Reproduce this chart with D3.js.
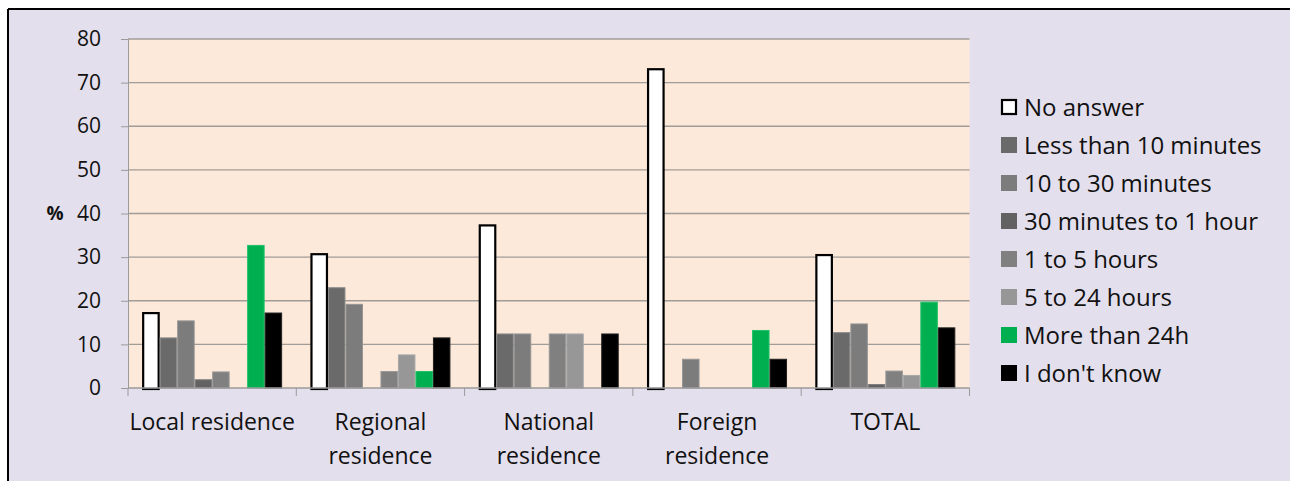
<!DOCTYPE html>
<html>
<head>
<meta charset="utf-8">
<script src="https://cdn.jsdelivr.net/npm/d3@7"></script>
<style>
  html, body { margin: 0; padding: 0; background: #ffffff; }
  svg { display: block; }
  text { font-family: "Open Sans", Lato, sans-serif; fill: #111; }
</style>
</head>
<body>
<svg id="chart" width="1290" height="481"></svg>
<script>
const categories = [["Local residence"], ["Regional", "residence"], ["National", "residence"], ["Foreign", "residence"], ["TOTAL"]];
const seriesNames = ["No answer", "Less than 10 minutes", "10 to 30 minutes", "30 minutes to 1 hour", "1 to 5 hours", "5 to 24 hours", "More than 24h", "I don't know"];
const noAnswer      = [17.4, 30.9, 37.5, 73.3, 30.7];
const lessThan10    = [11.6, 23.1, 12.5, 0, 12.8];
const min10to30     = [15.5, 19.3, 12.5, 6.7, 14.8];
const min30to1h     = [2.0, 0, 0, 0, 0.9];
const h1to5         = [3.8, 3.9, 12.5, 0, 4.0];
const h5to24        = [0, 7.7, 12.5, 0, 3.0];
const moreThan24h   = [32.8, 3.9, 0, 13.3, 19.8];
const dontKnow      = [17.3, 11.6, 12.5, 6.7, 13.9];
const yTicks = [0, 10, 20, 30, 40, 50, 60, 70, 80];

const seriesValues = [noAnswer, lessThan10, min10to30, min30to1h, h1to5, h5to24, moreThan24h, dontKnow];
const fills   = ["#ffffff", "#6a6a6a", "#7c7c7c", "#626262", "#808080", "#979797", "#00b050", "#000000"];
const strokes = ["#000000", "#8a8a8a", "#959595", "#7c7c7c", "#9a9a9a", "#a8a8a8", "#22c26a", "#222222"];

const svg = d3.select("#chart");

// outer background
svg.append("rect").attr("x", 8).attr("y", 9).attr("width", 1290).attr("height", 481).attr("fill", "#e4dfec");
svg.append("line").attr("x1", 8).attr("x2", 1290).attr("y1", 9).attr("y2", 9).attr("stroke", "#000").attr("stroke-width", 2);
svg.append("line").attr("x1", 8).attr("x2", 8).attr("y1", 9).attr("y2", 481).attr("stroke", "#000").attr("stroke-width", 2);

const plotL = 128, plotR = 969.5, plotT = 39, plotB = 388;
const catKeys = categories.map(c => c.join(" "));

const x0 = d3.scaleBand().domain(catKeys).range([plotL, plotR]).padding(0);
const x1 = d3.scaleBand().domain(seriesNames).range([0, x0.bandwidth()]).paddingInner(0).paddingOuter(0.81);
const y = d3.scaleLinear().domain([0, 80]).range([plotB, plotT]);

// plot area
svg.append("rect").attr("x", plotL).attr("y", plotT).attr("width", plotR - plotL).attr("height", plotB - plotT).attr("fill", "#fde9d9");

// gridlines
svg.append("g").selectAll("line").data(yTicks.filter(t => t > 0)).join("line")
  .attr("x1", plotL).attr("x2", plotR)
  .attr("y1", d => y(d)).attr("y2", d => y(d))
  .attr("stroke", "#a09c98").attr("stroke-width", 1.3);

// Y axis
const yAxis = svg.append("g").attr("transform", `translate(${plotL},0)`)
  .call(d3.axisLeft(y).tickValues(yTicks).tickSize(7).tickPadding(20));
yAxis.select(".domain").attr("stroke", "#9a9a9a");
yAxis.selectAll(".tick line").attr("stroke", "#9a9a9a");
yAxis.selectAll(".tick text").attr("font-size", 21).attr("font-family", "'Open Sans', sans-serif").attr("fill", "#111");

svg.append("text").attr("x", 55).attr("y", y(40)).attr("dy", "0.35em").attr("text-anchor", "middle")
  .attr("font-size", 19).attr("font-weight", "bold").text("%");

// bars
const groups = svg.append("g").selectAll("g").data(catKeys).join("g")
  .attr("transform", d => `translate(${x0(d)},0)`);
groups.each(function(cat, ci) {
  const g = d3.select(this);
  seriesNames.forEach((s, si) => {
    const v = seriesValues[si][ci];
    if (v <= 0) return;
    const isWhite = si === 0;
    g.append("rect")
      .attr("x", x1(s) + (isWhite ? 1 : 0.5))
      .attr("y", y(v) + (isWhite ? 1 : 0.5))
      .attr("width", x1.bandwidth() - (isWhite ? 2 : 1))
      .attr("height", y(0) - y(v) - (isWhite ? 0 : 0.5))
      .attr("fill", fills[si])
      .attr("stroke", strokes[si])
      .attr("stroke-width", isWhite ? 2.2 : 1);
  });
});

// X axis line and ticks
svg.append("line").attr("x1", plotL).attr("x2", plotR).attr("y1", plotB).attr("y2", plotB).attr("stroke", "#9a9a9a").attr("stroke-width", 1.3);
const bounds = catKeys.map(k => x0(k)).concat([plotR]);
svg.append("g").selectAll("line").data(bounds).join("line")
  .attr("x1", d => d).attr("x2", d => d).attr("y1", plotB).attr("y2", plotB + 8)
  .attr("stroke", "#9a9a9a");

// X labels
svg.append("g").selectAll("text").data(categories).join("text")
  .attr("text-anchor", "middle")
  .attr("font-size", 23)
  .attr("x", (d, i) => x0(catKeys[i]) + x0.bandwidth() / 2)
  .attr("y", 430)
  .each(function(lines, i) {
    const t = d3.select(this);
    const cx = x0(catKeys[i]) + x0.bandwidth() / 2;
    lines.forEach((ln, li) => {
      t.append("tspan").attr("x", cx).attr("dy", li === 0 ? 0 : 34).text(ln);
    });
  });

// legend
const legend = svg.append("g").selectAll("g").data(seriesNames).join("g")
  .attr("transform", (d, i) => `translate(1001, ${107 + i * 38})`);
legend.append("rect")
  .attr("x", (d, i) => i === 0 ? 1 : 0).attr("y", (d, i) => i === 0 ? -7 : -8)
  .attr("width", (d, i) => i === 0 ? 14 : 16).attr("height", (d, i) => i === 0 ? 14 : 16)
  .attr("fill", (d, i) => fills[i])
  .attr("stroke", (d, i) => i === 0 ? "#000" : "none").attr("stroke-width", 2.2);
legend.append("text").attr("x", 23).attr("dy", "0.36em").attr("font-size", 24).text(d => d);
</script>
</body>
</html>
